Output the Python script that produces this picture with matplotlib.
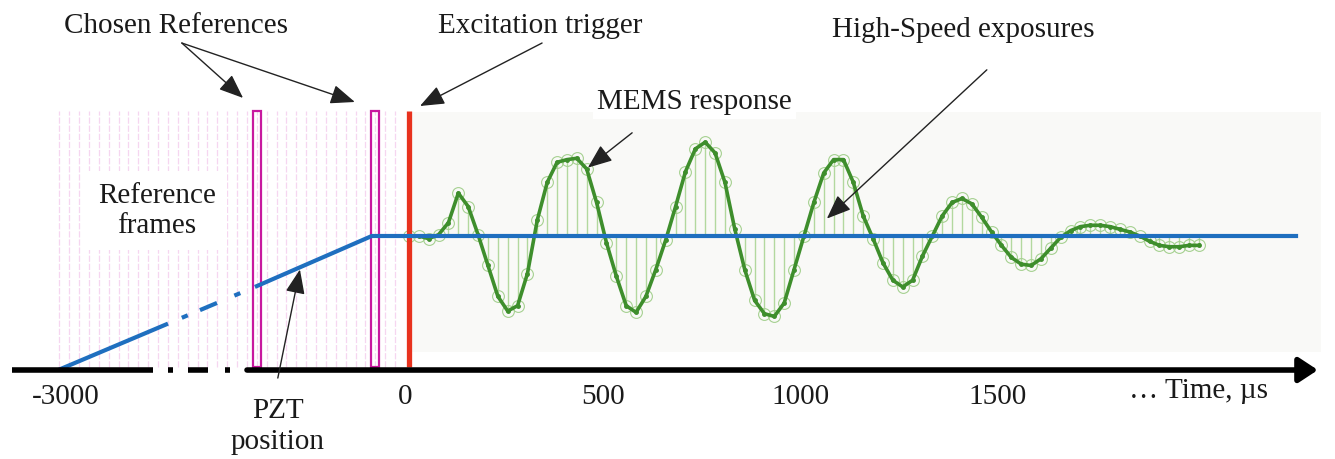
import numpy as np
import matplotlib.pyplot as plt

plt.rcParams['font.family'] = ['Liberation Serif', 'DejaVu Serif']

# high-speed camera: one exposure every 25 us
frame_dt = 25
ref_frames_t = np.arange(-875, 0, frame_dt)          # reference frames before trigger
chosen_refs_t = [-375, -75]
trigger_t = 10
mems_t = np.arange(0, 2001, frame_dt) + trigger_t   # exposures after trigger
mems_resp = [0.00, 0.00, -0.02, 0.01, 0.10, 0.32, 0.22, 0.01, -0.22, -0.45,
             -0.56, -0.52, -0.28, 0.12, 0.40, 0.55, 0.57, 0.58, 0.50, 0.25,
             -0.05, -0.30, -0.52, -0.57, -0.45, -0.25, -0.03, 0.22, 0.48, 0.65,
             0.70, 0.62, 0.40, 0.05, -0.25, -0.48, -0.58, -0.60, -0.50, -0.25,
             0.00, 0.25, 0.47, 0.57, 0.57, 0.40, 0.15, -0.02, -0.20, -0.33,
             -0.38, -0.33, -0.15, 0.00, 0.15, 0.25, 0.28, 0.24, 0.14, 0.03,
             -0.07, -0.16, -0.21, -0.22, -0.17, -0.09, -0.01, 0.04, 0.07, 0.08,
             0.08, 0.07, 0.05, 0.03, 0.00, -0.04, -0.07, -0.08, -0.08, -0.07, -0.07]

# PZT position (schematic, axis is broken on the left)
pzt_t = [-878, -380, -84, 2261]
pzt_y = [0.0, 0.62, 1.0, 1.0]
pzt_level = 1.0

tick_pos = [-860, 0, 500, 1000, 1500]
tick_labels = ["-3000", "0", "500", "1000", "1500"]

frame_top = 1.93
frame_bot = 0.02

fig = plt.figure(figsize=(13.35, 4.59), dpi=100)
ax = fig.add_axes([0, 0, 1, 1])
ax.set_xlim(-1025.3, 2354.4)
ax.set_ylim(-0.664, 2.761)
ax.axis('off')

fs = 21
tc = '#1a1a1a'

# light background behind the response
ax.axvspan(trigger_t, 2320, ymin=(0.134 + 0.664) / 3.425, ymax=(1.925 + 0.664) / 3.425,
           color='#f9f9f7', zorder=0, lw=0)

# reference frames
ax.vlines(ref_frames_t, frame_bot, frame_top, color='#f6d6f0', lw=0.9,
          linestyles=(0, (5, 1.5)), zorder=1)
for t in chosen_refs_t:
    ax.add_patch(plt.Rectangle((t - 10, frame_bot), 20, frame_top - frame_bot,
                               fill=False, ec='#c8189f', lw=1.6, zorder=4))

# trigger
ax.vlines(trigger_t, frame_bot, frame_top, color='#e8321e', lw=3.8, zorder=5)

# MEMS response
mems_y = pzt_level + np.array(mems_resp)
ax.vlines(mems_t, pzt_level, mems_y, color='#b2d89e', lw=1.0, zorder=2)
ax.plot(mems_t, mems_y, 'o', ms=8.5, mfc='none', mec='#a6d191', mew=0.8, zorder=2)
ax.plot(mems_t, mems_y, '-', color='#3e8e2c', lw=2.6, marker='o', ms=2.5, zorder=3)

# PZT line: dash-dot broken part, then solid
ramp_pieces = [(-878, -600), (-565, -550), (-519, -476), (-432, -417)]
for a, b in ramp_pieces:
    xs = [a, b]
    ax.plot(xs, np.interp(xs, pzt_t, pzt_y), color='#1f6fbf', lw=3, solid_capstyle='butt', zorder=6)
ax.plot(pzt_t[1:], pzt_y[1:], color='#1f6fbf', lw=3, solid_capstyle='butt', zorder=6)

# time axis with break
for a, b in [(-995, -638), (-600, -588), (-549, -499), (-455, -443)]:
    ax.plot([a, b], [0, 0], color='black', lw=4, solid_capstyle='butt', zorder=7)
ax.annotate('', xy=(2311, 0), xytext=(-400, 0),
            arrowprops=dict(arrowstyle='-|>,head_length=0.38,head_width=0.25',
                            mutation_scale=30, lw=4, color='black', shrinkA=0, shrinkB=0),
            zorder=7)

for p, lab in zip(tick_pos, tick_labels):
    ax.text(p, -0.2, lab, ha='center', va='center', fontsize=fs, color=tc)
ax.text(2008, -0.16, "\u2026 Time, \u00b5s", ha='center', va='center', fontsize=fs, color=tc)

# labels and arrows
ap = dict(arrowstyle='-|>,head_length=0.75,head_width=0.3', mutation_scale=20,
          lw=1.0, color='#222222', shrinkA=0, shrinkB=0)
ax.text(-580, 2.57, "Chosen References", ha='center', va='center', fontsize=fs, color=tc)
ax.annotate('', xy=(-410, 2.03), xytext=(-565, 2.44), arrowprops=ap, zorder=8)
ax.annotate('', xy=(-127, 2.0), xytext=(-565, 2.44), arrowprops=ap, zorder=8)

ax.text(342, 2.57, "Excitation trigger", ha='center', va='center', fontsize=fs, color=tc)
ax.annotate('', xy=(38, 1.97), xytext=(347, 2.44), arrowprops=ap, zorder=8)

ax.text(1413, 2.54, "High-Speed exposures", ha='center', va='center', fontsize=fs, color=tc)
ax.annotate('', xy=(1068, 1.13), xytext=(1473, 2.24), arrowprops=ap, zorder=8)

ax.text(732, 2.0, "MEMS response", ha='center', va='center', fontsize=fs, color=tc,
        bbox=dict(fc='white', ec='none', pad=3), zorder=8)
ax.annotate('', xy=(463, 1.51), xytext=(575, 1.77), arrowprops=ap, zorder=8)

ax.text(-628, 1.19, "Reference\nframes", ha='center', va='center', fontsize=fs, color=tc,
        linespacing=1.2, bbox=dict(fc='white', ec='none', pad=8), zorder=8)

ax.text(-322, -0.42, "PZT\nposition", ha='center', va='center', fontsize=fs, color=tc,
        linespacing=1.25)
ax.annotate('', xy=(-266, 0.75), xytext=(-322, -0.06), arrowprops=ap, zorder=8)

plt.savefig("out.png", dpi=100)
